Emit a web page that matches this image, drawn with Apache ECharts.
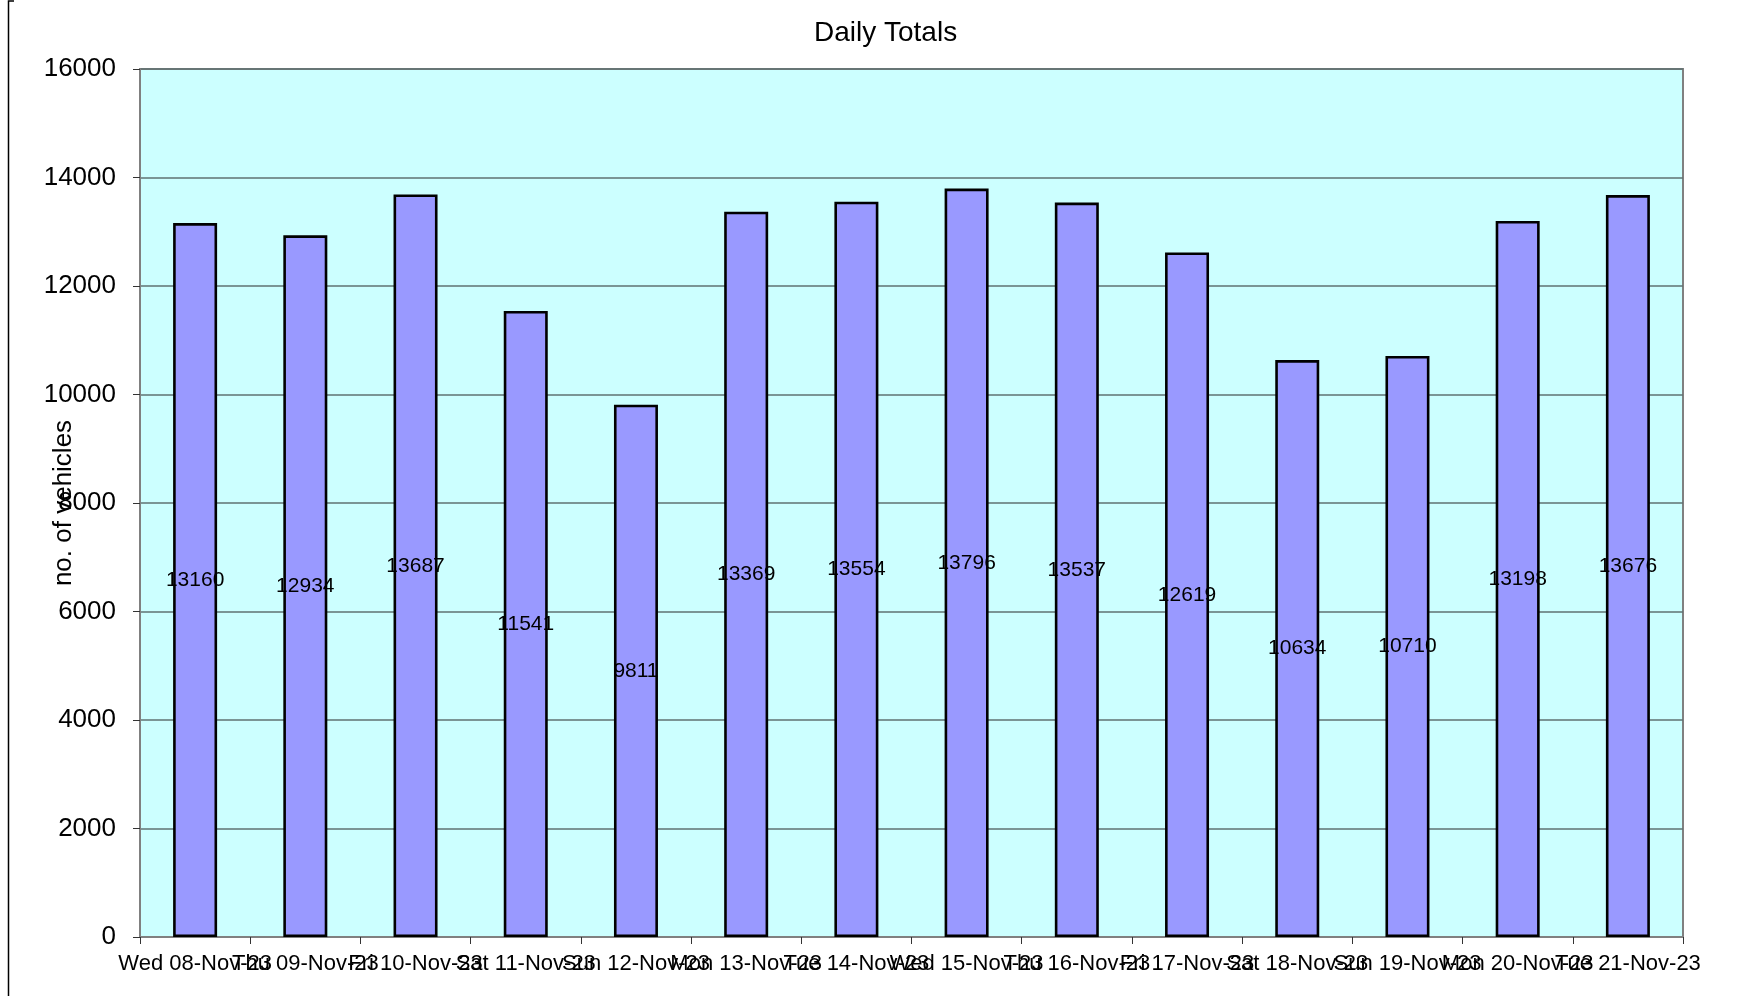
<!DOCTYPE html>
<html>
<head>
<meta charset="utf-8">
<title>Daily Totals</title>
<script src="https://cdn.jsdelivr.net/npm/echarts@6/dist/echarts.min.js"></script>
<style>
  html, body { margin: 0; padding: 0; background: #fff; }
  #daily-chart { width: 1743px; height: 998px; }
</style>
</head>
<body>
<div id="daily-chart"></div>
<script>
const days = [
  'Wed 08-Nov-23', 'Thu 09-Nov-23', 'Fri 10-Nov-23', 'Sat 11-Nov-23', 'Sun 12-Nov-23',
  'Mon 13-Nov-23', 'Tue 14-Nov-23', 'Wed 15-Nov-23', 'Thu 16-Nov-23', 'Fri 17-Nov-23',
  'Sat 18-Nov-23', 'Sun 19-Nov-23', 'Mon 20-Nov-23', 'Tue 21-Nov-23'
]
const totals = [13160, 12934, 13687, 11541, 9811, 13369, 13554, 13796, 13537, 12619, 10634, 10710, 13198, 13676]

const FONT = "'Liberation Sans', Arial, sans-serif"

const chart = echarts.init(document.getElementById('daily-chart'))
const option = {
  animation: false,
  backgroundColor: '#fff',
  title: {
    text: 'Daily Totals',
    left: 809,
    top: 14,
    textStyle: { fontFamily: FONT, fontSize: 28, fontWeight: 'normal', color: '#000' }
  },
  grid: {
    left: 140,
    right: 60,
    top: 69,
    bottom: 61,
    outerBoundsMode: 'none',
    containLabel: false,
    show: true,
    backgroundColor: '#CCFFFF',
    borderColor: '#808080',
    borderWidth: 2
  },
  xAxis: {
    type: 'category',
    data: days,
    axisLine: { lineStyle: { color: '#808080', width: 2 } },
    axisTick: { show: true, length: 7, lineStyle: { color: '#333', width: 1 } },
    axisLabel: {
      interval: 0,
      hideOverlap: false,
      margin: 16,
      color: '#000',
      fontFamily: FONT,
      fontSize: 22
    }
  },
  yAxis: {
    type: 'value',
    min: 0,
    max: 16000,
    interval: 2000,
    name: 'no. of vehicles',
    nameLocation: 'middle',
    nameGap: 63,
    nameMoveOverlap: false,
    nameTextStyle: { fontFamily: FONT, fontSize: 26, color: '#000' },
    axisLine: { show: true, lineStyle: { color: '#808080', width: 2 } },
    axisTick: { show: true, length: 7, lineStyle: { color: '#333', width: 1 } },
    axisLabel: {
      margin: 24,
      color: '#000',
      fontFamily: FONT,
      fontSize: 26,
      formatter: (v) => String(v)
    },
    splitLine: { lineStyle: { color: '#5f7272', width: 1.6 } }
  },
  series: [
    {
      type: 'bar',
      data: totals,
      barWidth: 44,
      itemStyle: { color: '#9999FF', borderColor: '#000', borderWidth: 2.6 },
      label: {
        show: true,
        position: 'inside',
        color: '#000',
        fontFamily: FONT,
        fontSize: 21
      }
    }
  ],
  graphic: [
    {
      type: 'polyline',
      shape: { points: [[14, 1], [8.5, 1], [8.5, 996]] },
      style: { stroke: '#000', lineWidth: 1.5, fill: null }
    }
  ]
}
chart.setOption(option)
</script>
</body>
</html>
